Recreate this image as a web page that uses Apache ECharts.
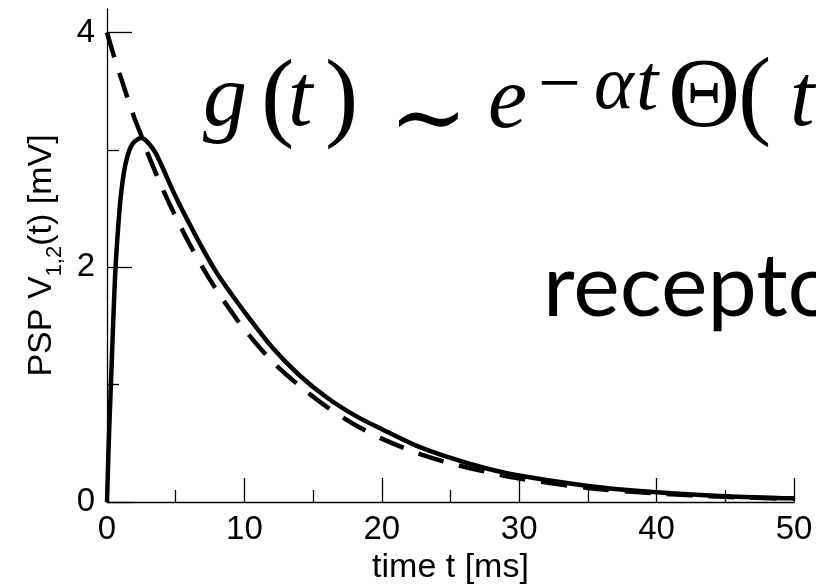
<!DOCTYPE html>
<html>
<head>
<meta charset="utf-8">
<title>PSP</title>
<script src="https://cdn.jsdelivr.net/npm/echarts@6/dist/echarts.min.js"></script>
<style>
  html, body { margin: 0; padding: 0; background: #fff; }
  #PspChart { width: 816px; height: 588px; }
</style>
</head>
<body>
<div id="PspChart"></div>
<script>
// 实线：突触后电位 PSP V_{1,2}(t)
var pspTime = [0, 0.1, 0.2, 0.3, 0.45, 0.6, 0.8, 1, 1.25, 1.5, 1.75, 2, 2.5, 3, 3.5, 4, 5, 6, 7, 8, 9, 10, 12, 14, 16, 18, 20, 22.5, 25, 27.5, 30, 35, 40, 45, 50];
var pspValue = [0, 0.4, 0.75, 1.05, 1.53, 1.95, 2.32, 2.6, 2.82, 2.95, 3.03, 3.07, 3.1, 3.06, 2.98, 2.86, 2.6, 2.37, 2.15, 1.95, 1.78, 1.62, 1.32, 1.08, 0.89, 0.74, 0.62, 0.48, 0.375, 0.29, 0.225, 0.137, 0.083, 0.05, 0.031];
// 虚线：指数衰减
var expTime = [0, 0.5, 1, 1.5, 2, 2.5, 3, 4, 5, 6, 7, 8, 9, 10, 12, 14, 16, 18, 20, 22.5, 25, 27.5, 30, 35, 40, 45, 50];
var expValue = [4, 3.8, 3.62, 3.44, 3.27, 3.12, 2.96, 2.68, 2.43, 2.2, 1.99, 1.8, 1.63, 1.47, 1.2, 0.99, 0.81, 0.66, 0.54, 0.42, 0.33, 0.26, 0.2, 0.12, 0.073, 0.044, 0.027];
// 刻度
var xMajorTicks = [0, 10, 20, 30, 40, 50];
var xMinorTicks = [5, 15, 25, 35, 45];
var yMajorTicks = [0, 2, 4];
var yMinorTicks = [1, 3];

function pairs(xs, ys) {
  return xs.map(function (x, i) {
    return [x, ys[i]];
  });
}

var myChart = echarts.init(document.getElementById("PspChart"), null, { renderer: "canvas" });

var black = "#000";
var sans = "'Liberation Sans', Arial, Helvetica, sans-serif";
var serif = "'Liberation Serif', 'Times New Roman', serif";
var axisLineStyle = { color: black, width: 1.3 };

var option = {
  animation: false,
  backgroundColor: "#fff",
  grid: { left: 107, right: 22, top: 9, bottom: 86, outerBoundsMode: "none" },
  xAxis: [
    {
      type: "value",
      min: 0,
      max: 50,
      name: "time t [ms]",
      nameLocation: "middle",
      nameGap: 44,
      nameTextStyle: { color: black, fontSize: 34, fontFamily: sans },
      axisLine: { show: true, onZero: false, lineStyle: axisLineStyle },
      axisTick: { show: true, inside: true, length: 24, customValues: xMajorTicks, lineStyle: axisLineStyle },
      axisLabel: { show: true, margin: 11, color: black, fontSize: 33, fontFamily: sans, customValues: xMajorTicks },
      splitLine: { show: false }
    },
    {
      // 次刻度
      type: "value",
      min: 0,
      max: 50,
      position: "bottom",
      offset: 0,
      axisLine: { show: false },
      axisTick: { show: true, inside: true, length: 12, customValues: xMinorTicks, lineStyle: axisLineStyle },
      axisLabel: { show: false },
      splitLine: { show: false }
    }
  ],
  yAxis: [
    {
      type: "value",
      min: 0,
      max: 4.2,
      name: "PSP V{s|1,2}(t) [mV]",
      nameLocation: "middle",
      nameGap: 43,
      nameTextStyle: {
        color: black,
        fontSize: 34,
        fontFamily: sans,
        lineHeight: 40,
        rich: {
          s: { fontSize: 22, fontFamily: sans, color: black, lineHeight: 20, verticalAlign: "top", padding: [22, 0, 0, 0] }
        }
      },
      axisLine: { show: true, onZero: false, lineStyle: axisLineStyle },
      axisTick: { show: true, inside: true, length: 25, customValues: yMajorTicks, lineStyle: axisLineStyle },
      axisLabel: { show: true, margin: 12, color: black, fontSize: 33, fontFamily: sans, customValues: yMajorTicks },
      splitLine: { show: false }
    },
    {
      type: "value",
      min: 0,
      max: 4.2,
      position: "left",
      offset: 0,
      axisLine: { show: false },
      axisTick: { show: true, inside: true, length: 12, customValues: yMinorTicks, lineStyle: axisLineStyle },
      axisLabel: { show: false },
      splitLine: { show: false }
    }
  ],
  series: [
    {
      name: "exp",
      type: "line",
      xAxisIndex: 0,
      yAxisIndex: 0,
      data: pairs(expTime, expValue),
      symbol: "none",
      smooth: 0.3,
      clip: false,
      lineStyle: { color: black, width: 4.5, type: [26, 16], cap: "butt" }
    },
    {
      name: "psp",
      type: "line",
      xAxisIndex: 0,
      yAxisIndex: 0,
      data: pairs(pspTime, pspValue),
      symbol: "none",
      smooth: 0.3,
      clip: false,
      lineStyle: { color: black, width: 4.5, type: "solid" }
    }
  ],
  // 公式和文字注释
  graphic: [
    {
      type: "text",
      x: 203,
      y: 102,
      style: {
        text: "{i|g}{r|(}{t|t}{r|)}",
        align: "left", textAlign: "left",
        verticalAlign: "middle", textVerticalAlign: "middle",
        rich: {
          i: { font: "italic 88px " + serif, fill: black, width: 58 },
          t: { font: "italic 88px " + serif, fill: black, width: 37 },
          r: { font: "100px " + serif, fill: black, width: 27 }
        }
      }
    },
    {
      type: "text",
      x: 389,
      y: 125,
      style: { text: "\u223C", font: "94px 'DejaVu Serif', serif", fill: black, align: "left", textAlign: "left", verticalAlign: "middle", textVerticalAlign: "middle" }
    },
    {
      type: "text",
      x: 488,
      y: 104,
      style: { text: "e", font: "italic 88px " + serif, fill: black, align: "left", textAlign: "left", verticalAlign: "middle", textVerticalAlign: "middle" }
    },
    {
      type: "text",
      x: 538,
      y: 88,
      style: {
        text: "{m|\u2212}{a|\u03B1}{i|t}",
        align: "left", textAlign: "left",
        verticalAlign: "middle", textVerticalAlign: "middle",
        rich: {
          m: { font: "76px " + serif, fill: black, width: 56 },
          a: { font: "italic 76px " + serif, fill: black, width: 42 },
          i: { font: "italic 80px " + serif, fill: black }
        }
      }
    },
    {
      type: "text",
      x: 668,
      y: 100,
      style: {
        text: "{th|\u0398}{r|(}",
        align: "left", textAlign: "left",
        verticalAlign: "middle", textVerticalAlign: "middle",
        rich: {
          th: { font: "100px " + serif, fill: black, width: 70 },
          r: { font: "100px " + serif, fill: black }
        }
      }
    },
    {
      type: "text",
      x: 790,
      y: 102,
      style: { text: "t", font: "italic 88px " + serif, fill: black, align: "left", textAlign: "left", verticalAlign: "middle", textVerticalAlign: "middle" }
    },
    {
      type: "text",
      x: 543,
      y: 288,
      style: { text: "recepto", font: "88px Lato, 'Open Sans', sans-serif", fill: black, align: "left", textAlign: "left", verticalAlign: "middle", textVerticalAlign: "middle" }
    }
  ]
};

myChart.setOption(option);
</script>
</body>
</html>
